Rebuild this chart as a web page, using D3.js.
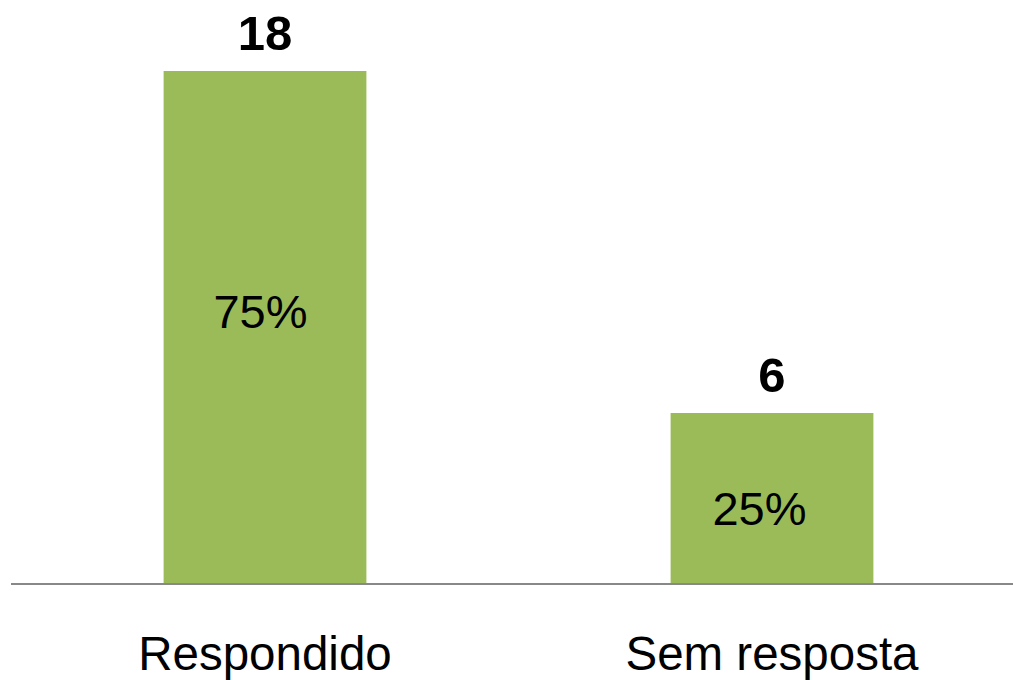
<!DOCTYPE html>
<html><head><meta charset="utf-8">
<script src="https://cdn.jsdelivr.net/npm/d3@7"></script>
<style>body{margin:0;background:#fff}svg{display:block}text{font-family:"Liberation Sans",Arial,sans-serif}</style>
</head><body>
<svg id="c" width="1013" height="680"></svg>
<script>
const categories = ["Respondido", "Sem resposta"];
const counts = [18, 6];
const percents = ["75%", "25%"];

const svg = d3.select("#c");
const baseY = 584;
const x = d3.scaleBand().domain(categories).range([11.5, 1025.5]).paddingInner(0.6).paddingOuter(0.3);
const y = d3.scaleLinear().domain([0, 20]).range([baseY, 14]);

const data = categories.map((c, i) => ({c, v: counts[i], p: percents[i], i}));

svg.selectAll("rect.bar").data(data).join("rect")
  .attr("class", "bar")
  .attr("x", d => x(d.c)).attr("width", x.bandwidth())
  .attr("y", d => y(d.v)).attr("height", d => y(0) - y(d.v))
  .attr("fill", "#9BBB59");

const axis = d3.axisBottom(x).tickSize(0).tickPadding(0);
const ag = svg.append("g").attr("transform", `translate(0,${baseY})`).call(axis);
ag.select(".domain").remove();
ag.append("line").attr("x1", 11).attr("x2", 1013).attr("y1", 0).attr("y2", 0)
  .attr("stroke", "#888").attr("stroke-width", 2);
ag.selectAll(".tick text").attr("y", 86).attr("dy", 0)
  .attr("fill", "#000").style("font-size", "47.5px").style("font-family", '"Liberation Sans", Arial, sans-serif');

svg.selectAll("text.val").data(data).join("text")
  .attr("class", "val")
  .attr("x", d => x(d.c) + x.bandwidth() / 2)
  .attr("y", d => y(d.v) - 21)
  .attr("text-anchor", "middle").attr("font-weight", "bold").attr("font-size", 49)
  .text(d => d.v);

// in-bar label placement tweaks (as in the original layout)
const pctShiftX = [-4.5, -12.5];
const pctShiftY = [0, 26];
svg.selectAll("text.pct").data(data).join("text")
  .attr("class", "pct")
  .attr("x", d => x(d.c) + x.bandwidth() / 2 + pctShiftX[d.i])
  .attr("y", d => y(d.v / 2) + pctShiftY[d.i])
  .attr("text-anchor", "middle").attr("font-size", 47)
  .text(d => d.p);
</script>
</body></html>
